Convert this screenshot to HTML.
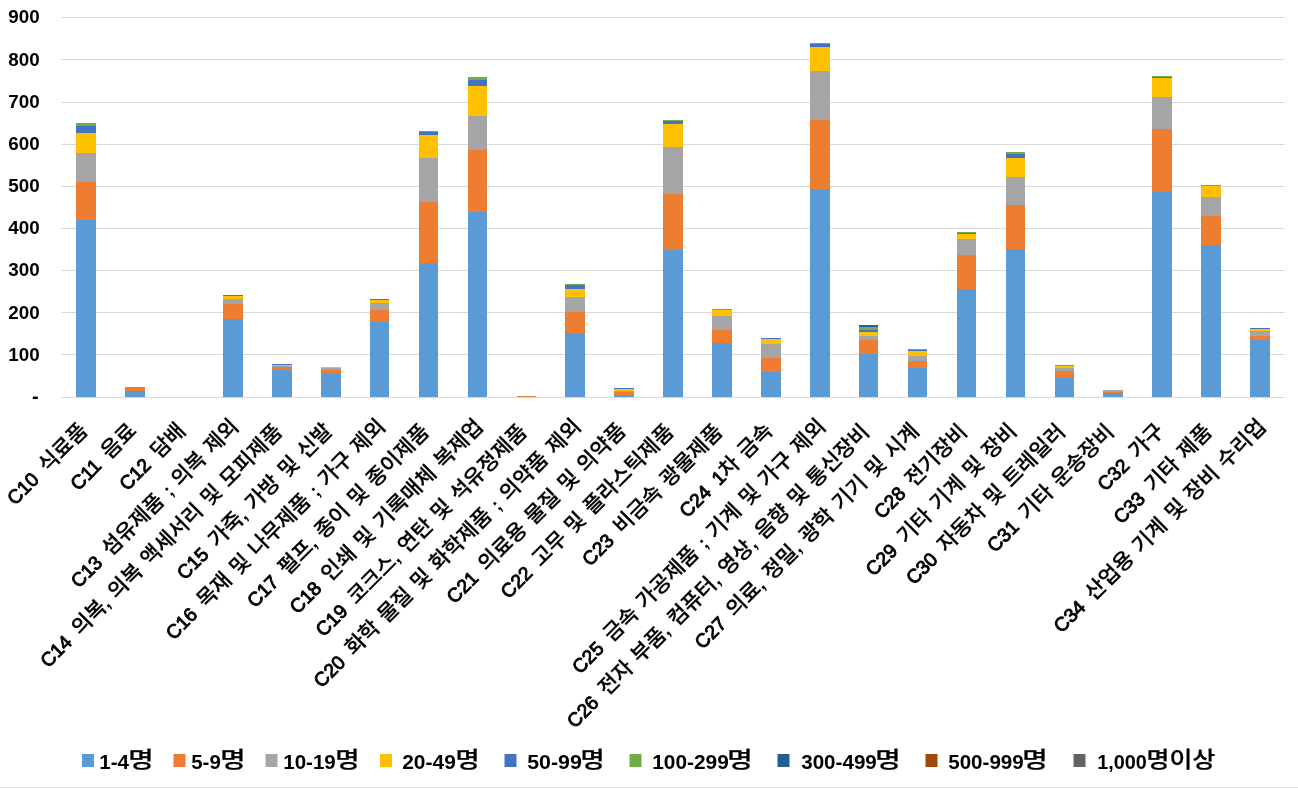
<!DOCTYPE html>
<html lang="ko"><head><meta charset="utf-8"><title>chart</title>
<style>
html,body{margin:0;padding:0;background:#fff}
svg{display:block}
text{fill:#000}
.ax{font-family:"Liberation Sans","Noto Sans CJK KR",sans-serif;font-weight:bold;font-size:18px}
.cat{font-family:"Liberation Sans","Noto Sans CJK KR",sans-serif;font-weight:bold;font-size:19.3px;stroke:#000;stroke-width:0px;word-spacing:1.9px;letter-spacing:0px}
.cat .l{font-weight:normal;stroke-width:0.9px;letter-spacing:0px;word-spacing:4.6px}
.cat .k{font-weight:500;font-size:21.2px;stroke-width:0.25px;letter-spacing:0}
.lg{font-family:"Liberation Sans","Noto Sans CJK KR",sans-serif;font-weight:bold;font-size:19.8px}
.lg .k{font-weight:500;font-size:21.8px;stroke:#000;stroke-width:0.25px}
</style></head><body>
<svg width="1298" height="788" viewBox="0 0 1298 788">
<rect width="1298" height="788" fill="#fff"/>
<g fill="#D9D9D9">
<rect x="61.4" y="17" width="1223.3" height="1"/>
<rect x="61.4" y="59" width="1223.3" height="1"/>
<rect x="61.4" y="102" width="1223.3" height="1"/>
<rect x="61.4" y="144" width="1223.3" height="1"/>
<rect x="61.4" y="186" width="1223.3" height="1"/>
<rect x="61.4" y="228" width="1223.3" height="1"/>
<rect x="61.4" y="270" width="1223.3" height="1"/>
<rect x="61.4" y="312" width="1223.3" height="1"/>
<rect x="61.4" y="354" width="1223.3" height="1"/>
<rect x="61.4" y="397" width="1223.3" height="1"/>
<rect x="0" y="787" width="1298" height="1"/>
</g>
<g shape-rendering="crispEdges">
<rect x="76" y="220" width="20" height="177" fill="#5B9BD5"/><rect x="76" y="182" width="20" height="38" fill="#ED7D31"/><rect x="76" y="153" width="20" height="29" fill="#A5A5A5"/><rect x="76" y="133" width="20" height="20" fill="#FFC000"/><rect x="76" y="126" width="20" height="7" fill="#4472C4"/><rect x="76" y="123" width="20" height="3" fill="#70AD47"/>
<rect x="125" y="391" width="20" height="6" fill="#5B9BD5"/><rect x="125" y="388" width="20" height="3" fill="#ED7D31"/><rect x="125" y="387" width="20" height="1" fill="#70AD47"/>
<rect x="223" y="319" width="20" height="78" fill="#5B9BD5"/><rect x="223" y="304" width="20" height="15" fill="#ED7D31"/><rect x="223" y="299" width="20" height="5" fill="#A5A5A5"/><rect x="223" y="296" width="20" height="3" fill="#FFC000"/><rect x="223" y="295" width="20" height="1" fill="#4472C4"/>
<rect x="272" y="370" width="20" height="27" fill="#5B9BD5"/><rect x="272" y="367" width="20" height="3" fill="#ED7D31"/><rect x="272" y="366" width="20" height="1" fill="#A5A5A5"/><rect x="272" y="365" width="20" height="1" fill="#FFC000"/><rect x="272" y="364" width="20" height="1" fill="#4472C4"/>
<rect x="321" y="374" width="20" height="23" fill="#5B9BD5"/><rect x="321" y="370" width="20" height="4" fill="#ED7D31"/><rect x="321" y="368" width="20" height="2" fill="#A5A5A5"/><rect x="321" y="367" width="20" height="1" fill="#FFC000"/>
<rect x="370" y="322" width="19" height="75" fill="#5B9BD5"/><rect x="370" y="310" width="19" height="12" fill="#ED7D31"/><rect x="370" y="303" width="19" height="7" fill="#A5A5A5"/><rect x="370" y="300" width="19" height="3" fill="#FFC000"/><rect x="370" y="299" width="19" height="1" fill="#4472C4"/>
<rect x="419" y="263" width="19" height="134" fill="#5B9BD5"/><rect x="419" y="202" width="19" height="61" fill="#ED7D31"/><rect x="419" y="158" width="19" height="44" fill="#A5A5A5"/><rect x="419" y="135" width="19" height="23" fill="#FFC000"/><rect x="419" y="132" width="19" height="3" fill="#4472C4"/><rect x="419" y="131" width="19" height="1" fill="#70AD47"/>
<rect x="468" y="212" width="19" height="185" fill="#5B9BD5"/><rect x="468" y="150" width="19" height="62" fill="#ED7D31"/><rect x="468" y="116" width="19" height="34" fill="#A5A5A5"/><rect x="468" y="86" width="19" height="30" fill="#FFC000"/><rect x="468" y="80" width="19" height="6" fill="#4472C4"/><rect x="468" y="77" width="19" height="3" fill="#70AD47"/>
<rect x="517" y="396" width="19" height="1" fill="#ED7D31"/>
<rect x="565" y="333" width="20" height="64" fill="#5B9BD5"/><rect x="565" y="312" width="20" height="21" fill="#ED7D31"/><rect x="565" y="297" width="20" height="15" fill="#A5A5A5"/><rect x="565" y="289" width="20" height="8" fill="#FFC000"/><rect x="565" y="285" width="20" height="4" fill="#4472C4"/><rect x="565" y="284" width="20" height="1" fill="#70AD47"/>
<rect x="614" y="395" width="20" height="2" fill="#5B9BD5"/><rect x="614" y="392" width="20" height="3" fill="#ED7D31"/><rect x="614" y="391" width="20" height="1" fill="#A5A5A5"/><rect x="614" y="389" width="20" height="2" fill="#FFC000"/><rect x="614" y="388" width="20" height="1" fill="#4472C4"/>
<rect x="663" y="250" width="20" height="147" fill="#5B9BD5"/><rect x="663" y="194" width="20" height="56" fill="#ED7D31"/><rect x="663" y="147" width="20" height="47" fill="#A5A5A5"/><rect x="663" y="124" width="20" height="23" fill="#FFC000"/><rect x="663" y="121" width="20" height="3" fill="#4472C4"/><rect x="663" y="120" width="20" height="1" fill="#70AD47"/>
<rect x="712" y="343" width="20" height="54" fill="#5B9BD5"/><rect x="712" y="330" width="20" height="13" fill="#ED7D31"/><rect x="712" y="316" width="20" height="14" fill="#A5A5A5"/><rect x="712" y="310" width="20" height="6" fill="#FFC000"/><rect x="712" y="309" width="20" height="1" fill="#70AD47"/>
<rect x="761" y="372" width="20" height="25" fill="#5B9BD5"/><rect x="761" y="358" width="20" height="14" fill="#ED7D31"/><rect x="761" y="344" width="20" height="14" fill="#A5A5A5"/><rect x="761" y="339" width="20" height="5" fill="#FFC000"/><rect x="761" y="338" width="20" height="1" fill="#4472C4"/>
<rect x="810" y="189" width="20" height="208" fill="#5B9BD5"/><rect x="810" y="120" width="20" height="69" fill="#ED7D31"/><rect x="810" y="71" width="20" height="49" fill="#A5A5A5"/><rect x="810" y="47" width="20" height="24" fill="#FFC000"/><rect x="810" y="44" width="20" height="3" fill="#4472C4"/><rect x="810" y="43" width="20" height="1" fill="#70AD47"/>
<rect x="859" y="354" width="19" height="43" fill="#5B9BD5"/><rect x="859" y="340" width="19" height="14" fill="#ED7D31"/><rect x="859" y="336" width="19" height="4" fill="#A5A5A5"/><rect x="859" y="332" width="19" height="4" fill="#FFC000"/><rect x="859" y="330" width="19" height="2" fill="#4472C4"/><rect x="859" y="327" width="19" height="3" fill="#70AD47"/><rect x="859" y="325" width="19" height="2" fill="#255E91"/>
<rect x="908" y="368" width="19" height="29" fill="#5B9BD5"/><rect x="908" y="361" width="19" height="7" fill="#ED7D31"/><rect x="908" y="356" width="19" height="5" fill="#A5A5A5"/><rect x="908" y="351" width="19" height="5" fill="#FFC000"/><rect x="908" y="350" width="19" height="1" fill="#4472C4"/><rect x="908" y="349" width="19" height="1" fill="#70AD47"/>
<rect x="957" y="289" width="19" height="108" fill="#5B9BD5"/><rect x="957" y="255" width="19" height="34" fill="#ED7D31"/><rect x="957" y="239" width="19" height="16" fill="#A5A5A5"/><rect x="957" y="234" width="19" height="5" fill="#FFC000"/><rect x="957" y="233" width="19" height="1" fill="#4472C4"/><rect x="957" y="232" width="19" height="1" fill="#70AD47"/>
<rect x="1006" y="249" width="19" height="148" fill="#5B9BD5"/><rect x="1006" y="205" width="19" height="44" fill="#ED7D31"/><rect x="1006" y="177" width="19" height="28" fill="#A5A5A5"/><rect x="1006" y="158" width="19" height="19" fill="#FFC000"/><rect x="1006" y="154" width="19" height="4" fill="#4472C4"/><rect x="1006" y="152" width="19" height="2" fill="#70AD47"/>
<rect x="1055" y="378" width="19" height="19" fill="#5B9BD5"/><rect x="1055" y="371" width="19" height="7" fill="#ED7D31"/><rect x="1055" y="368" width="19" height="3" fill="#A5A5A5"/><rect x="1055" y="366" width="19" height="2" fill="#FFC000"/><rect x="1055" y="365" width="19" height="1" fill="#70AD47"/>
<rect x="1103" y="393" width="20" height="4" fill="#5B9BD5"/><rect x="1103" y="392" width="20" height="1" fill="#ED7D31"/><rect x="1103" y="390" width="20" height="2" fill="#A5A5A5"/>
<rect x="1152" y="192" width="20" height="205" fill="#5B9BD5"/><rect x="1152" y="129" width="20" height="63" fill="#ED7D31"/><rect x="1152" y="97" width="20" height="32" fill="#A5A5A5"/><rect x="1152" y="78" width="20" height="19" fill="#FFC000"/><rect x="1152" y="77" width="20" height="1" fill="#4472C4"/><rect x="1152" y="76" width="20" height="1" fill="#70AD47"/>
<rect x="1201" y="245" width="20" height="152" fill="#5B9BD5"/><rect x="1201" y="216" width="20" height="29" fill="#ED7D31"/><rect x="1201" y="197" width="20" height="19" fill="#A5A5A5"/><rect x="1201" y="186" width="20" height="11" fill="#FFC000"/><rect x="1201" y="185" width="20" height="1" fill="#70AD47"/>
<rect x="1250" y="340" width="20" height="57" fill="#5B9BD5"/><rect x="1250" y="336" width="20" height="4" fill="#ED7D31"/><rect x="1250" y="331" width="20" height="5" fill="#A5A5A5"/><rect x="1250" y="329" width="20" height="2" fill="#FFC000"/><rect x="1250" y="328" width="20" height="1" fill="#4472C4"/>
</g>
<g class="ax" text-anchor="end">
<text x="39.7" y="22.90" textLength="31.4" lengthAdjust="spacingAndGlyphs">900</text>
<text x="39.7" y="65.70" textLength="31.4" lengthAdjust="spacingAndGlyphs">800</text>
<text x="39.7" y="107.90" textLength="31.4" lengthAdjust="spacingAndGlyphs">700</text>
<text x="39.7" y="149.90" textLength="31.4" lengthAdjust="spacingAndGlyphs">600</text>
<text x="39.7" y="191.90" textLength="31.4" lengthAdjust="spacingAndGlyphs">500</text>
<text x="39.7" y="233.80" textLength="31.4" lengthAdjust="spacingAndGlyphs">400</text>
<text x="39.7" y="275.90" textLength="31.4" lengthAdjust="spacingAndGlyphs">300</text>
<text x="39.7" y="319.00" textLength="31.4" lengthAdjust="spacingAndGlyphs">200</text>
<text x="39.7" y="361.00" textLength="31.4" lengthAdjust="spacingAndGlyphs">100</text>
<text x="38.7" y="403.2" font-size="20">-</text>
</g>
<g class="cat" text-anchor="end">
<text transform="translate(88.77 432.00) rotate(-45)" textLength="104.5" lengthAdjust="spacingAndGlyphs"><tspan class="l">C10 </tspan><tspan class="k">식료품</tspan></text>
<text transform="translate(137.70 432.00) rotate(-45)" textLength="84.2" lengthAdjust="spacingAndGlyphs"><tspan class="l">C11 </tspan><tspan class="k">음료</tspan></text>
<text transform="translate(186.64 432.00) rotate(-45)" textLength="84" lengthAdjust="spacingAndGlyphs"><tspan class="l">C12 </tspan><tspan class="k">담배</tspan></text>
<text transform="translate(239.82 427.76) rotate(-45)" textLength="227.7" lengthAdjust="spacingAndGlyphs"><tspan class="l">C13 </tspan><tspan class="k">섬유제품</tspan> ; <tspan class="k">의복</tspan> <tspan class="k">제외</tspan></text>
<text transform="translate(283.45 433.06) rotate(-45)" textLength="332.8" lengthAdjust="spacingAndGlyphs"><tspan class="l">C14 </tspan><tspan class="k">의복</tspan>, <tspan class="k">의복</tspan> <tspan class="k">액세서리</tspan> <tspan class="k">및</tspan> <tspan class="k">모피제품</tspan></text>
<text transform="translate(333.45 432.00) rotate(-45)" textLength="210.4" lengthAdjust="spacingAndGlyphs"><tspan class="l">C15 </tspan><tspan class="k">가죽</tspan>, <tspan class="k">가방</tspan> <tspan class="k">및</tspan> <tspan class="k">신발</tspan></text>
<text transform="translate(386.63 427.76) rotate(-45)" textLength="301.1" lengthAdjust="spacingAndGlyphs"><tspan class="l">C16 </tspan><tspan class="k">목재</tspan> <tspan class="k">및</tspan> <tspan class="k">나무제품</tspan> ; <tspan class="k">가구</tspan> <tspan class="k">제외</tspan></text>
<text transform="translate(430.26 433.06) rotate(-45)" textLength="248" lengthAdjust="spacingAndGlyphs"><tspan class="l">C17 </tspan><tspan class="k">펄프</tspan>, <tspan class="k">종이</tspan> <tspan class="k">및</tspan> <tspan class="k">종이제품</tspan></text>
<text transform="translate(484.50 427.76) rotate(-45)" textLength="264.5" lengthAdjust="spacingAndGlyphs"><tspan class="l">C18 </tspan><tspan class="k">인쇄</tspan> <tspan class="k">및</tspan> <tspan class="k">기록매체</tspan> <tspan class="k">복제업</tspan></text>
<text transform="translate(528.13 433.06) rotate(-45)" textLength="289.3" lengthAdjust="spacingAndGlyphs"><tspan class="l">C19 </tspan><tspan class="k">코크스</tspan>, <tspan class="k">연탄</tspan> <tspan class="k">및</tspan> <tspan class="k">석유정제품</tspan></text>
<text transform="translate(582.37 427.76) rotate(-45)" textLength="368.9" lengthAdjust="spacingAndGlyphs"><tspan class="l">C20 </tspan><tspan class="k">화학</tspan> <tspan class="k">물질</tspan> <tspan class="k">및</tspan> <tspan class="k">화학제품</tspan> ; <tspan class="k">의약품</tspan> <tspan class="k">제외</tspan></text>
<text transform="translate(627.06 432.00) rotate(-45)" textLength="244" lengthAdjust="spacingAndGlyphs"><tspan class="l">C21 </tspan><tspan class="k">의료용</tspan> <tspan class="k">물질</tspan> <tspan class="k">및</tspan> <tspan class="k">의약품</tspan></text>
<text transform="translate(674.94 433.06) rotate(-45)" textLength="235.3" lengthAdjust="spacingAndGlyphs"><tspan class="l">C22 </tspan><tspan class="k">고무</tspan> <tspan class="k">및</tspan> <tspan class="k">플라스틱제품</tspan></text>
<text transform="translate(723.88 433.06) rotate(-45)" textLength="189.3" lengthAdjust="spacingAndGlyphs"><tspan class="l">C23 </tspan><tspan class="k">비금속</tspan> <tspan class="k">광물제품</tspan></text>
<text transform="translate(773.87 432.00) rotate(-45)" textLength="122.4" lengthAdjust="spacingAndGlyphs"><tspan class="l">C24 </tspan><tspan class="l">1</tspan><tspan class="k">차</tspan> <tspan class="k">금속</tspan></text>
<text transform="translate(827.05 427.76) rotate(-45)" textLength="349.4" lengthAdjust="spacingAndGlyphs"><tspan class="l">C25 </tspan><tspan class="k">금속</tspan> <tspan class="k">가공제품</tspan> ; <tspan class="k">기계</tspan> <tspan class="k">및</tspan> <tspan class="k">가구</tspan> <tspan class="k">제외</tspan></text>
<text transform="translate(870.68 433.06) rotate(-45)" textLength="418.4" lengthAdjust="spacingAndGlyphs"><tspan class="l">C26 </tspan><tspan class="k">전자</tspan> <tspan class="k">부품</tspan>, <tspan class="k">컴퓨터</tspan>, <tspan class="k">영상</tspan>, <tspan class="k">음향</tspan> <tspan class="k">및</tspan> <tspan class="k">통신장비</tspan></text>
<text transform="translate(920.33 432.35) rotate(-45)" textLength="307.9" lengthAdjust="spacingAndGlyphs"><tspan class="l">C27 </tspan><tspan class="k">의료</tspan>, <tspan class="k">정밀</tspan>, <tspan class="k">광학</tspan> <tspan class="k">기기</tspan> <tspan class="k">및</tspan> <tspan class="k">시계</tspan></text>
<text transform="translate(968.56 433.06) rotate(-45)" textLength="122.5" lengthAdjust="spacingAndGlyphs"><tspan class="l">C28 </tspan><tspan class="k">전기장비</tspan></text>
<text transform="translate(1018.20 432.35) rotate(-45)" textLength="204.6" lengthAdjust="spacingAndGlyphs"><tspan class="l">C29 </tspan><tspan class="k">기타</tspan> <tspan class="k">기계</tspan> <tspan class="k">및</tspan> <tspan class="k">장비</tspan></text>
<text transform="translate(1066.43 433.06) rotate(-45)" textLength="215.7" lengthAdjust="spacingAndGlyphs"><tspan class="l">C30 </tspan><tspan class="k">자동차</tspan> <tspan class="k">및</tspan> <tspan class="k">트레일러</tspan></text>
<text transform="translate(1115.36 433.06) rotate(-45)" textLength="170.1" lengthAdjust="spacingAndGlyphs"><tspan class="l">C31 </tspan><tspan class="k">기타</tspan> <tspan class="k">운송장비</tspan></text>
<text transform="translate(1165.36 432.00) rotate(-45)" textLength="84.9" lengthAdjust="spacingAndGlyphs"><tspan class="l">C32 </tspan><tspan class="k">가구</tspan></text>
<text transform="translate(1213.24 433.06) rotate(-45)" textLength="129.7" lengthAdjust="spacingAndGlyphs"><tspan class="l">C33 </tspan><tspan class="k">기타</tspan> <tspan class="k">제품</tspan></text>
<text transform="translate(1267.47 427.76) rotate(-45)" textLength="291.3" lengthAdjust="spacingAndGlyphs"><tspan class="l">C34 </tspan><tspan class="k">산업용</tspan> <tspan class="k">기계</tspan> <tspan class="k">및</tspan> <tspan class="k">장비</tspan> <tspan class="k">수리업</tspan></text>
</g>
<g class="lg">
<rect x="82" y="754" width="12" height="13" fill="#5B9BD5"/><text x="99.20" y="769" textLength="29.80" lengthAdjust="spacingAndGlyphs">1-4</text><text class="k" x="128.38" y="766.8" textLength="25.39" lengthAdjust="spacingAndGlyphs">명</text>
<rect x="173.5" y="754" width="12" height="13" fill="#ED7D31"/><text x="191.20" y="769" textLength="29.60" lengthAdjust="spacingAndGlyphs">5-9</text><text class="k" x="220.39" y="766.8" textLength="25.33" lengthAdjust="spacingAndGlyphs">명</text>
<rect x="265.5" y="754" width="12" height="13" fill="#A5A5A5"/><text x="283.20" y="769" textLength="52.62" lengthAdjust="spacingAndGlyphs">10-19</text><text class="k" x="335.39" y="766.8" textLength="24.32" lengthAdjust="spacingAndGlyphs">명</text>
<rect x="380" y="754" width="12" height="13" fill="#FFC000"/><text x="402.19" y="769" textLength="53.61" lengthAdjust="spacingAndGlyphs">20-49</text><text class="k" x="455.42" y="766.8" textLength="24.18" lengthAdjust="spacingAndGlyphs">명</text>
<rect x="504.5" y="754" width="12" height="13" fill="#4472C4"/><text x="527.17" y="769" textLength="54.66" lengthAdjust="spacingAndGlyphs">50-99</text><text class="k" x="580.42" y="766.8" textLength="24.18" lengthAdjust="spacingAndGlyphs">명</text>
<rect x="629.5" y="754" width="12" height="13" fill="#70AD47"/><text x="652.17" y="769" textLength="76.64" lengthAdjust="spacingAndGlyphs">100-299</text><text class="k" x="727.34" y="766.8" textLength="25.45" lengthAdjust="spacingAndGlyphs">명</text>
<rect x="777.5" y="754" width="12" height="13" fill="#255E91"/><text x="801.19" y="769" textLength="75.62" lengthAdjust="spacingAndGlyphs">300-499</text><text class="k" x="875.34" y="766.8" textLength="25.45" lengthAdjust="spacingAndGlyphs">명</text>
<rect x="925.5" y="754" width="12" height="13" fill="#9E480E"/><text x="948.18" y="769" textLength="75.60" lengthAdjust="spacingAndGlyphs">500-999</text><text class="k" x="1022.34" y="766.8" textLength="25.45" lengthAdjust="spacingAndGlyphs">명</text>
<rect x="1073.5" y="754" width="12" height="13" fill="#636363"/><text x="1097.17" y="769" textLength="49.65" lengthAdjust="spacingAndGlyphs">1,000</text><text class="k" x="1146.60" y="766.8" textLength="68.80" lengthAdjust="spacingAndGlyphs">명이상</text>
</g>
</svg>
</body></html>
